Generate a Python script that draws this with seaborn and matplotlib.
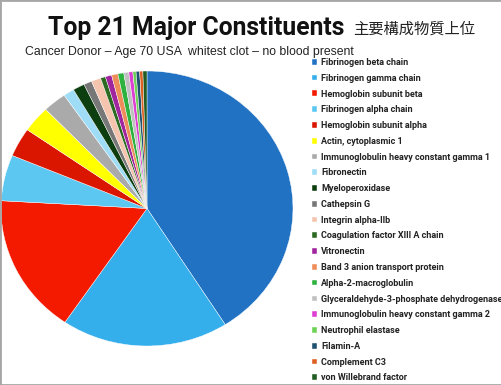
import matplotlib
matplotlib.use("Agg")
import matplotlib.pyplot as plt
from matplotlib.patches import Rectangle
import seaborn as sns

sns.set_theme(style="white")

proteins = [
    "Fibrinogen beta chain", "Fibrinogen gamma chain", "Hemoglobin subunit beta",
    "Fibrinogen alpha chain", "Hemoglobin subunit alpha", "Actin, cytoplasmic 1",
    "Immunoglobulin heavy constant gamma 1", "Fibronectin", "Myeloperoxidase",
    "Cathepsin G", "Integrin alpha-IIb", "Coagulation factor XIII A chain",
    "Vitronectin", "Band 3 anion transport protein", "Alpha-2-macroglobulin",
    "Glyceraldehyde-3-phosphate dehydrogenase", "Immunoglobulin heavy constant gamma 2",
    "Neutrophil elastase", "Filamin-A", "Complement C3", "von Willebrand factor",
]
shares = [41.0, 18.5, 16.4, 5.4, 3.4, 3.1, 2.6, 1.2, 1.3, 0.9, 1.05,
          0.55, 0.7, 0.7, 0.65, 0.55, 0.45, 0.35, 0.4, 0.35, 0.45]
colors = ["#2272C3", "#35AEEC", "#F41A00", "#5CC8F2", "#DA1500", "#FFFF00",
          "#AAAAAA", "#9FDDF7", "#0D3E0F", "#777777", "#F4C4AE", "#2C6A22",
          "#A1259F", "#EF8D5A", "#2DB23F", "#C0C0C0", "#DD3FD3", "#6DD255",
          "#1F5270", "#DD5F21", "#215C22"]

fig = plt.figure(figsize=(5.02, 3.85), dpi=100)
fig.patch.set_facecolor("white")

# pie area: centre about (147, 209) px, slightly squashed vertically
ax = fig.add_axes([1 / 502, 39 / 385, 292 / 502, 275 / 385])
wedges, _ = ax.pie(shares, colors=colors, startangle=90, counterclock=False,
                   wedgeprops=dict(edgecolor="white", linewidth=0.3))
ax.set_aspect("auto")
ax.set_xlim(-1, 1)
ax.set_ylim(-1, 1)
ax.axis("off")

fig.text(48 / 502, 1 - 35 / 385, "Top 21 Major Constituents",
         family=["Roboto", "DejaVu Sans"], weight="bold",
         fontsize=17.8, color="#111111", ha="left", va="baseline")
fig.text(353 / 502, 1 - 34 / 385, "主要構成物質上位",
         family=["Noto Sans CJK JP", "DejaVu Sans"], fontsize=11,
         color="#222222", ha="left", va="baseline")
fig.text(25 / 502, 1 - 55.5 / 385,
         "Cancer Donor \u2013 Age 70 USA  whitest clot \u2013 no blood present",
         family=["Liberation Sans", "DejaVu Sans"], fontsize=8.8,
         color="#222222", ha="left", va="baseline")

leg = fig.legend(wedges, proteins, loc="upper left",
                 bbox_to_anchor=(312 / 502, 1 - 58 / 385),
                 frameon=False, handlelength=0.6, handleheight=0.6,
                 handletextpad=0.4, labelspacing=0.75, borderpad=0,
                 borderaxespad=0,
                 prop=dict(family=["Roboto", "DejaVu Sans"],
                           weight="bold", size=6.5))
for t in leg.get_texts():
    t.set_color("#222222")

fig.patches.append(Rectangle((0, 0), 1, 1, transform=fig.transFigure,
                             fill=False, edgecolor="#A6A6A6", linewidth=2))

fig.savefig("out.png", dpi=100)
